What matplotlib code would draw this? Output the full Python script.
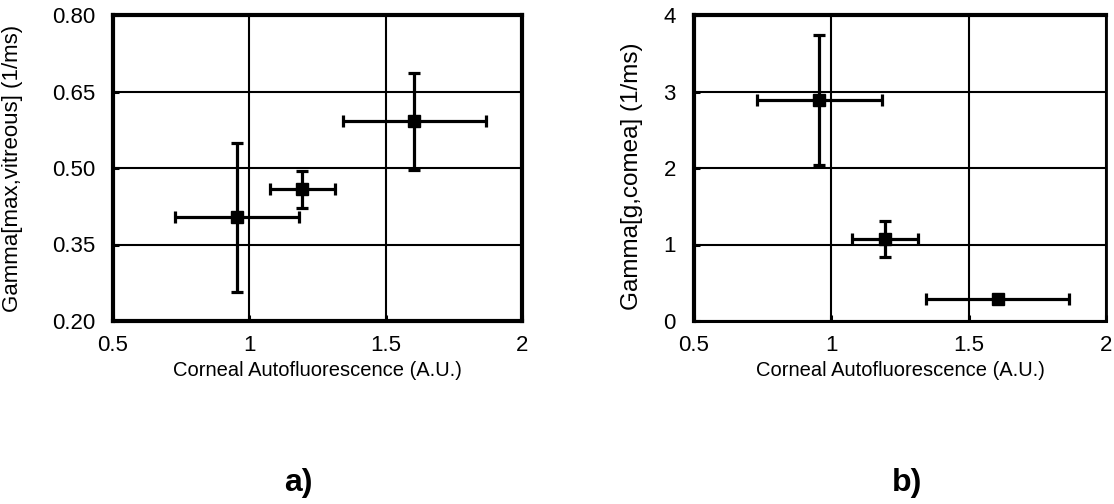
import numpy as np
import matplotlib
matplotlib.use('Agg')
import matplotlib.pyplot as plt

plt.rcParams['font.family'] = ['Liberation Sans', 'DejaVu Sans']

# corneal autofluorescence (shared x values)
cornea_af = [0.956, 1.194, 1.605]
cornea_af_err = [0.227, 0.12, 0.262]

# a) gamma max, vitreous
gamma_vit = [0.403, 0.458, 0.592]
gamma_vit_err = [0.147, 0.037, 0.095]

# b) gamma g, cornea
gamma_cor = [2.89, 1.07, 0.29]
gamma_cor_err = [0.85, 0.235, 0.0]

X_TICKS = [0.5, 1, 1.5, 2]
X_TICKLABELS = ['0.5', '1', '1.5', '2']
A_TICKS = [0.20, 0.35, 0.50, 0.65, 0.80]
A_TICKLABELS = ['0.20', '0.35', '0.50', '0.65', '0.80']
B_TICKS = [0, 1, 2, 3, 4]
B_TICKLABELS = ['0', '1', '2', '3', '4']

fig = plt.figure(figsize=(11.14, 5.04), dpi=100)
ax_a = fig.add_axes([113 / 1114, 1 - 321 / 504, 409 / 1114, 306 / 504])
ax_b = fig.add_axes([694 / 1114, 1 - 321 / 504, 412 / 1114, 306 / 504])


def style(ax, yticks, yticklabels, ylim, ylabel, ylabel_size, ylabel_xy,
          right_lw, bottom_lw):
    ax.set_xlim(0.5, 2)
    ax.set_ylim(*ylim)
    ax.set_xticks(X_TICKS)
    ax.set_xticklabels(X_TICKLABELS)
    ax.set_yticks(yticks)
    ax.set_yticklabels(yticklabels)
    ax.grid(True, color='black', linewidth=1.5)
    ax.set_axisbelow(True)
    ax.tick_params(direction='in', length=4, width=2.2, labelsize=16,
                   color='black')
    ax.tick_params(axis='y', pad=13)
    ax.tick_params(axis='x', pad=10)
    for side in ['left', 'top']:
        ax.spines[side].set_linewidth(3.0)
    ax.spines['right'].set_linewidth(right_lw)
    ax.spines['bottom'].set_linewidth(bottom_lw)
    ax.set_xlabel('Corneal Autofluorescence (A.U.)', fontsize=14.5, labelpad=4)
    ax.set_ylabel(ylabel, fontsize=ylabel_size)
    ax.yaxis.set_label_coords(*ylabel_xy)


for ax, yv, ye in [(ax_a, gamma_vit, gamma_vit_err),
                   (ax_b, gamma_cor, gamma_cor_err)]:
    ax.errorbar(cornea_af, yv, xerr=cornea_af_err, yerr=ye,
                fmt='s', color='black', markersize=8.5, elinewidth=2.3,
                capsize=4, capthick=2.3, zorder=5)

style(ax_a, A_TICKS, A_TICKLABELS, (0.2, 0.8),
      'Gamma[max,vitreous] (1/ms)', 16, (-0.22, 0.5), 3.0, 3.0)
style(ax_b, B_TICKS, B_TICKLABELS, (0, 4),
      'Gamma[g,comea] (1/ms)', 17.5, (-0.124, 0.474), 2.0, 2.2)

fig.text(298 / 1114, 1 - 483 / 504, 'a)', fontsize=23, fontweight='bold',
         ha='center', va='center')
fig.text(907 / 1114, 1 - 483 / 504, 'b)', fontsize=23, fontweight='bold',
         ha='center', va='center')

fig.savefig('out.png', dpi=100)
